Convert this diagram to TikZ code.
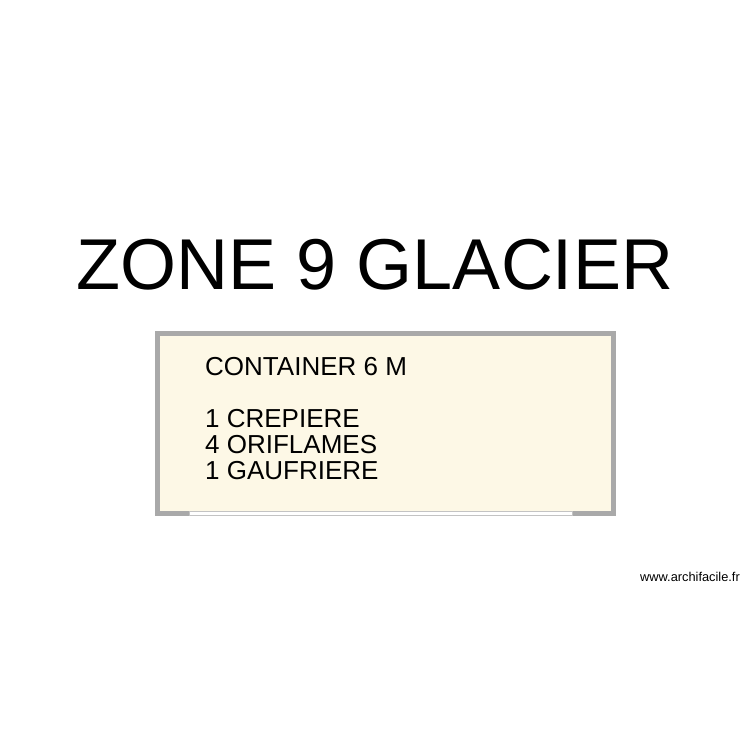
\documentclass[tikz,border=0pt]{standalone}
\usepackage{fontspec}
\setmainfont{Liberation Sans}
\usetikzlibrary{positioning}

\definecolor{wallgray}{HTML}{A9A9A9}
\definecolor{roomfill}{HTML}{FDF8E6}

\begin{document}
\begin{tikzpicture}[x=1pt,y=-1pt,
                    every node/.style={inner sep=0pt,
                      text=black},
                    wall/.style={draw=wallgray,
                      line width=5pt,
                      fill=roomfill},
                    opening/.style={draw=wallgray!70,
                      line width=0.6pt,
                      fill=white}]
\useasboundingbox (0,0) rectangle (750,750);
\fill[white] (0,0) rectangle (750,750);
% container
\draw[wall] (157.5,333.5) rectangle (613.5,513.5);
\draw[opening] (189,511.5) rectangle (572,515.5);
\node (title) [anchor=base, font=\fontsize{72}{80}\selectfont] at (375,289) {ZONE 9 GLACIER};
\node (content) [anchor=base west, align=left,
  font=\fontsize{26}{26}\selectfont] at (205,479)
  {CONTAINER 6 M\\[26pt]1 CREPIERE\\4 ORIFLAMES\\1 GAUFRIERE};
\node (credit) [anchor=base east, font=\fontsize{12.8}{14}\selectfont] at (740,581) {www.archifacile.fr};
\end{tikzpicture}
\end{document}
